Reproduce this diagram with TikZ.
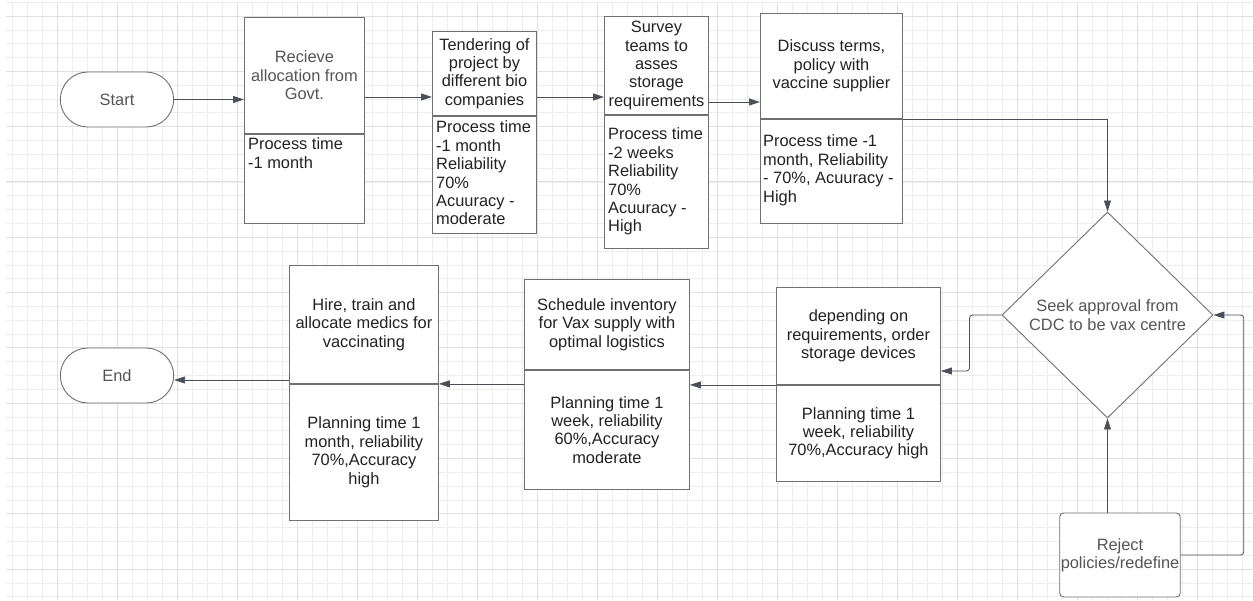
\documentclass[tikz,border=0pt]{standalone}
\usepackage{fontspec}
\setmainfont{Liberation Sans}
\usetikzlibrary{shapes.geometric,shapes.misc,arrows.meta,positioning,calc}
\definecolor{grade}{HTML}{E0E0E0}
\definecolor{gradefina}{HTML}{EEEEEE}
\definecolor{borda}{HTML}{707070}
\definecolor{corseta}{HTML}{4A4F58}
\definecolor{texto}{HTML}{222222}
\definecolor{textocinza}{HTML}{555555}

\begin{document}
\begin{tikzpicture}[x=1pt,y=-1pt,font=\fontsize{16.4}{18.4}\selectfont,
  caixa/.style={draw=borda,line width=0.9pt,fill=white,anchor=north west,inner sep=2pt,align=center,text=texto},
  txtesq/.style={inner sep=0pt,align=left,text=texto,anchor=north west},
  terminal/.style={draw=borda,line width=0.9pt,fill=white,rounded rectangle,minimum width=120pt,minimum height=55pt,text=textocinza},
  seta/.style={draw=corseta,line width=0.8pt,-{Triangle[length=11pt,width=7pt]}}]
% Fundo e grade
\fill[white] (0,0) rectangle (1253,600);
\useasboundingbox (0,0) rectangle (1253,600);
\foreach \i in {0,...,82} \draw[gradefina,line width=0.7pt] ({12+15*\i},3) -- ({12+15*\i},600);
\foreach \i in {0,...,43} \draw[gradefina,line width=0.7pt] (6,{2.2+13.825*\i}) -- (1253,{2.2+13.825*\i});
\foreach \i in {0,...,19} \draw[grade,line width=1pt] ({57+60*\i},3) -- ({57+60*\i},600);
\foreach \i in {0,...,10} \draw[grade,line width=1pt] (6,{16+55.3*\i}) -- (1253,{16+55.3*\i});

% Linha de cima
\node[terminal] (inicio) at (117,99.5) {Start};
\node[caixa,minimum width=120pt,minimum height=116pt,text=textocinza] (b1) at (244,17) {Recieve\\allocation from\\Govt.};
\node[caixa,minimum width=120pt,minimum height=89pt] (b1x) at (b1.south west) {};
\node[txtesq,below right=4pt and 4pt of b1x.north west] (t1) {Process time\\-1 month};

\node[caixa,minimum width=104pt,minimum height=84pt] (b2) at (432,31) {Tendering of\\project by\\different bio\\companies};
\node[caixa,minimum width=104pt,minimum height=117pt] (b2x) at (b2.south west) {};
\node[txtesq,below right=5pt and 4pt of b2x.north west] (t2) {Process time\\-1 month\\Reliability\\70\%\\Acuuracy -\\moderate};

\node[caixa,minimum width=104pt,minimum height=98pt] (b3) at (604,16) {Survey\\teams to\\asses\\storage\\requirements};
\node[caixa,minimum width=104pt,minimum height=133pt] (b3x) at (b3.south west) {};
\node[txtesq,below right=13pt and 4pt of b3x.north west] (t3) {Process time\\-2 weeks\\Reliability\\70\%\\Acuuracy -\\High};

\node[caixa,minimum width=142pt,minimum height=105pt] (b4) at (760,13) {Discuss terms,\\policy with\\vaccine supplier};
\node[caixa,minimum width=142pt,minimum height=104pt] (b4x) at (b4.south west) {};
\node[txtesq,below right=16pt and 3pt of b4x.north west] (t4) {Process time -1\\month, Reliability\\- 70\%, Acuuracy -\\High};

% Decisao
\node[draw=borda,line width=0.9pt,fill=white,diamond,minimum width=211pt,minimum height=206pt,inner sep=0pt,align=center,text=textocinza] (d) at (1107.5,315) {Seek approval from\\CDC to be vax centre};
\node[draw=borda,line width=0.9pt,fill=white,rounded corners=4pt,minimum width=120pt,minimum height=84pt,inner sep=1pt,align=center,text=textocinza] (r) at (1120,555) {Reject\\policies/redefine};

% Linha de baixo
\node[caixa,minimum width=164pt,minimum height=97pt] (b5) at (776,287) {depending on\\requirements, order\\storage devices};
\node[caixa,minimum width=164pt,minimum height=96pt] (b5x) at (b5.south west) {Planning time 1\\week, reliability\\70\%,Accuracy high};

\node[caixa,minimum width=165pt,minimum height=90pt] (b6) at (524,279) {Schedule inventory\\for Vax supply with\\optimal logistics};
\node[caixa,minimum width=165pt,minimum height=119pt] (b6x) at (b6.south west) {Planning time 1\\week, reliability\\60\%,Accuracy\\moderate};

\node[caixa,minimum width=149pt,minimum height=118pt] (b7) at (289,265) {Hire, train and\\allocate medics for\\vaccinating};
\node[caixa,minimum width=149pt,minimum height=136pt] (b7x) at (b7.south west) {Planning time 1\\month, reliability\\70\%,Accuracy\\high};

\node[terminal] (fim) at (117,375.5) {End};

% Setas
\draw[seta] (inicio.east) -- (inicio.east -| b1.west);
\draw[seta] (b1.east |- 0,97) -- (b2.west |- 0,97);
\draw[seta] (b2.east |- 0,97) -- (b3.west |- 0,97);
\draw[seta] (b3.east |- 0,102) -- (b4.west |- 0,102);
\draw[seta] (b4.south east) -| (d.north);
\draw[seta,rounded corners=3pt] (d.west) -- ++(-32,0) |- (b5.east |- 0,371);
\draw[seta] (b5.south west) -- (b5.south west -| b6x.east);
\draw[seta] (b6x.west |- b7.south east) -- (b7.south east);
\draw[seta] (b7.west |- 0,380) -- (fim.east |- 0,380);
\draw[seta] (r.north -| d.south) -- (d.south);
\draw[seta,rounded corners=3pt] (r.east) -- ++(63,0) |- (d.east);
\end{tikzpicture}
\end{document}
